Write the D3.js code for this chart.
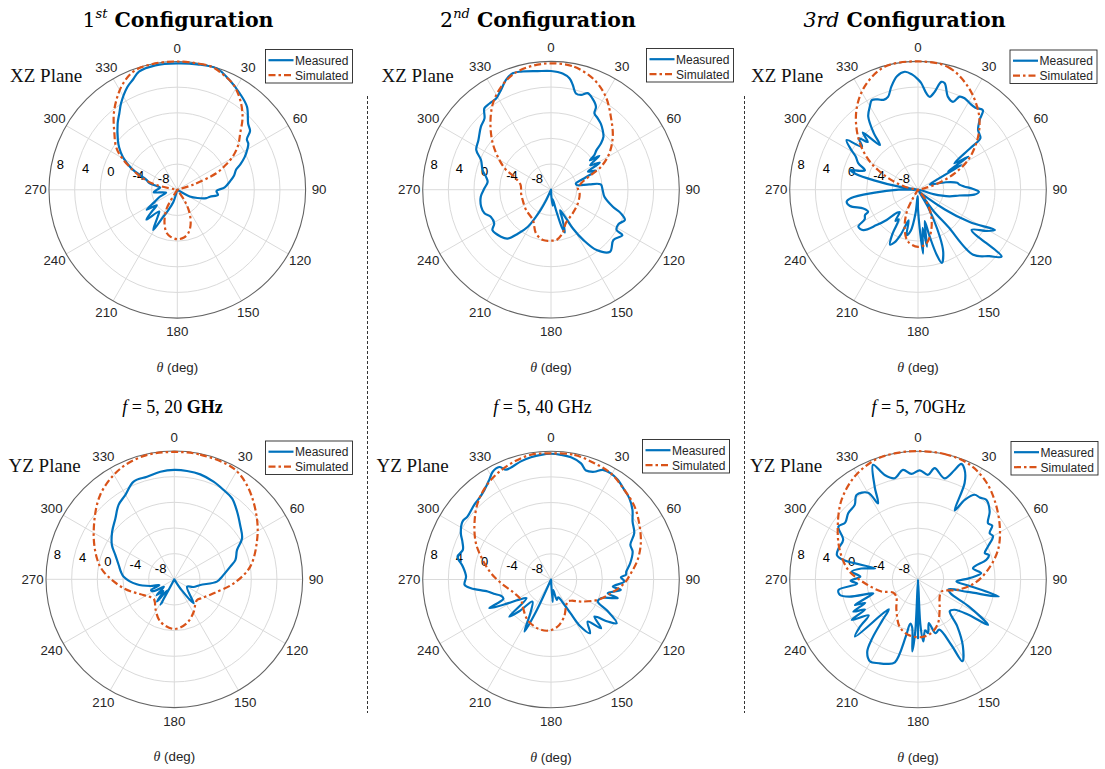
<!DOCTYPE html>
<html>
<head>
<meta charset="utf-8">
<script src="https://cdn.jsdelivr.net/npm/d3@7"></script>
<style>
  html, body { margin: 0; padding: 0; background: #ffffff; }
  svg { display: block; }
</style>
</head>
<body>
<svg id="fig" width="1105" height="769"></svg>
<script>
// Shared polar axis ticks and radial limits (dB)
const thetaTicks = [0, 30, 60, 90, 120, 150, 180, 210, 240, 270, 300, 330];
const rTicks = [-8, -4, 0, 4, 8];
const rLimits = [-12, 8];

const seriesNames = ["Measured", "Simulated"];
const columnTitles = ["1st", "2nd", "3rd"];
const frequencyTitles = ["5, 20", "5, 40", "5, 70"];
const planeNames = ["XZ Plane", "YZ Plane"];

// Radiation patterns as [theta (deg), gain (dB)]

// XZ plane, 1st configuration
const xz1Measured = [[0,7.7],[9,7.8],[18,7.9],[25,7.0],[33,5.9],[40,4.9],[47,3.1],[51,2.6],[54,1.4],[57,1.2],[60,0.6],[64,-0.3],[68,-1.4],[71,-2.3],[76,-2.9],[81,-3.7],[87,-4.6],[92,-5.9],[97,-5.6],[102,-6.8],[106,-7.3],[112,-8.6],[118,-9.8],[126,-12],[190,-12],[198,-10],[204,-8.5],[208,-7.0],[211,-4.7],[216,-6.8],[220,-7.6],[226,-5.3],[230,-7.0],[233,-8.0],[237,-6.3],[242,-8.0],[248,-9.0],[256,-10.2],[264,-8.3],[270,-8.8],[277,-9.3],[283,-7.6],[288,-6.9],[295,-4.1],[301,-2.1],[306,-0.8],[310,0.1],[318,1.9],[323,3.0],[327,4.1],[334,5.8],[338,6.5],[342,7.35],[350,7.7]];
const xz1Simulated = [[0,8.0],[10,7.95],[16,7.9],[22,7.3],[28,6.6],[35,5.1],[42,3.2],[48,1.2],[54,-0.3],[59,-1.9],[63,-3.6],[67,-5.4],[72,-9.4],[78,-12],[140,-12],[146,-10],[150,-8.6],[154,-7.4],[160,-6.0],[166,-5.0],[172,-4.5],[180,-4.3],[188,-4.6],[194,-5.1],[200,-6.2],[205,-7.4],[210,-8.8],[216,-12],[278,-12],[283,-8.6],[288,-6.5],[294,-4.4],[300,-2.0],[305,-0.35],[312,1.2],[320,3.4],[327,5.2],[333,6.6],[340,7.7],[350,8.0]];

// XZ plane, 2nd configuration
const xz2Measured = [[0,6.5],[5.7,6.2],[9.4,5.6],[11.7,4.7],[14.5,3.5],[17.6,3.5],[20.8,4.1],[24.5,3.6],[28.5,2.7],[29.6,1.7],[33.2,1.3],[37,0.9],[40.9,0.3],[44.8,-0.4],[47.2,-1.4],[49,-2.6],[51.5,-3.4],[53,-4.4],[55,-2.8],[58,-4.8],[61,-3.3],[64,-5.6],[67,-4.4],[71,-6.5],[76,-8.0],[80,-7.9],[82,-6.0],[84,-4.2],[90.4,-3.95],[97.5,-3.6],[105.4,-2.0],[108.7,-0.5],[112.3,0.45],[117,-0.2],[121.6,0.0],[122.5,1.2],[128.9,0.5],[136.4,1.35],[142.9,-0.2],[147.3,-2.7],[150.5,-5.0],[152.4,-7.0],[156,-8.5],[159,-7.0],[162,-5.0],[164,-6.0],[166,-8.5],[170,-10.5],[174,-9.5],[177,-11],[180,-12],[200,-12],[205,-10],[207,-8.5],[209,-7.2],[212,-5.2],[217,-3.4],[221.7,-1.8],[226.8,-1.3],[235.3,-0.9],[239.3,-1.7],[245.8,-1.7],[250.5,-1.0],[256.3,-0.8],[264.3,-1.0],[271,-1.6],[277,-2.05],[281,-1.7],[286,-0.9],[293,-0.15],[298,1.2],[304.3,1.7],[312,2.7],[317,3.2],[320.7,4.4],[324.5,4.5],[329,4.6],[333.4,5.4],[337.7,6.5],[341.8,7.1],[345.7,7.0],[353.6,6.6]];
const xz2Simulated = [[0,7.7],[10.7,7.5],[21.6,6.4],[30.6,4.8],[39.4,2.7],[49.3,0.7],[58.1,-1.3],[65.3,-3.4],[69.9,-5.4],[78.1,-7.2],[87,-7.8],[97,-7.5],[117,-7.3],[137.5,-7.0],[156,-6.3],[165,-5.0],[174,-4.1],[180,-4.05],[189,-4.05],[199,-4.8],[211,-6.5],[231,-7.0],[250,-7.3],[263,-7.3],[279,-7.2],[289.5,-5.9],[293.6,-4.4],[300,-2.7],[308.5,-0.4],[317.6,2.0],[326,4.2],[334,5.8],[342.5,7.0],[351,7.5]];

// XZ plane, 3rd configuration
const xz3Measured = [[0,5.2],[1.8,4.6],[4.9,3.1],[7.2,2.6],[9.7,3.5],[12.2,5.2],[14.1,5.1],[17.9,3.2],[21.7,2.75],[24.1,3.9],[27,4.0],[30.9,3.7],[35,3.6],[39.2,4.0],[41.5,2.5],[45.2,1.2],[48,0.9],[50.5,0.6],[51.5,-1.5],[54,-5.0],[56.7,-2.6],[58.5,-6.5],[60.4,-4.2],[62,-8.5],[66,-10],[70,-9.5],[75,-7.5],[80,-5.8],[83,-5.5],[86,-4.8],[89,-3.5],[92,-2.5],[95,-3.2],[98,-5.5],[102,-7.0],[106,-9.5],[110,-12],[126.4,-6.8],[122,-2.5],[117.6,1.55],[121,0.5],[126.9,-1.55],[128.7,4.7],[133,3.2],[139.7,1.3],[140.9,-4.6],[144,-8],[147,-12],[150,-9],[155,-4],[158,-1.5],[162,0.0],[164,-1.5],[166,-4.5],[168,-7],[171,-3.0],[173,-6],[175.5,-2.0],[177.5,-6],[180,-9],[183,-11],[186,-8.3],[190,-5.5],[194,-4.7],[197,-7],[201,-4.5],[204,-3.0],[207,-2.4],[210,-4],[213,-6.5],[216,-6.0],[219,-7.5],[222,-7.2],[226,-5.2],[229.5,-3.5],[233.6,-1.4],[238.2,-1.06],[241,-2.5],[244.5,-2.85],[246.1,-3.5],[251.1,-3.0],[256.5,-1.1],[260.5,-0.73],[263,-1.5],[266,-5],[270,-9],[275,-12],[279,-9],[282,-5],[284.2,-2.0],[286.1,-1.0],[288,-2.5],[290,-3.2],[294,-1.8],[298,-1.0],[301,0.2],[304.8,1.55],[307.5,-1.0],[311,0.2],[313.5,-1.2],[316,0.4],[319.6,-2.85],[322,-0.8],[325.8,1.8],[330,3.0],[332.7,3.7],[336,3.4],[339,3.0],[342.1,3.2],[345.5,4.6],[349.5,6.0],[353.6,6.5],[357,6.0]];
const xz3Simulated = [[0,8.0],[13.7,7.7],[25.9,5.85],[37,3.55],[44.4,1.7],[51.5,-0.4],[59.3,-2.9],[66,-5.75],[72.4,-8.7],[78,-11],[82,-12],[138,-12],[142.4,-10.3],[151.8,-7.8],[161.7,-5.4],[171.2,-3.5],[180,-3.1],[190.9,-3.75],[198.3,-5.4],[206.2,-7.9],[210,-10],[214,-12],[278,-12],[282.7,-9.9],[289.9,-7.6],[296.2,-5.05],[302.6,-2.45],[311.5,0.5],[322.3,3.7],[332.6,6.1],[344.8,7.85]];

// YZ plane, 1st configuration
const yz1Measured = [[0,5.05],[6.7,5.0],[13.9,4.85],[21.9,4.4],[28.9,3.9],[35.5,3.5],[42.8,2.4],[50.5,1.3],[58.8,0.35],[64.9,-1.2],[72.4,-2.0],[77.3,-3.05],[86.8,-4.55],[93.1,-5.35],[102.3,-7.85],[112,-8.8],[120,-9.7],[141,-7.2],[146,-10],[150,-12],[200,-12],[208,-7.5],[212,-10],[218,-7.6],[223,-9.5],[228,-8.3],[234,-10],[240,-8.3],[245,-8.0],[249,-9.5],[254.5,-8.1],[262.4,-6.1],[273,-4.1],[278,-3.6],[284.4,-3.05],[292.4,-2.05],[298.8,-0.9],[307.4,0.2],[315.9,1.2],[323.2,2.5],[329.8,3.2],[337.4,4.5],[345.1,4.55],[352.6,4.9]];
const yz1Simulated = [[0,7.85],[11.7,7.85],[28.1,7.6],[39.2,6.3],[53.6,4.0],[65.5,2.15],[80.5,0.0],[93.9,-2.7],[109.6,-5.5],[124,-6.8],[132.4,-7.2],[140,-6.9],[149.1,-6.1],[163.9,-4.9],[180,-4.25],[198.3,-5.05],[213.2,-6.6],[220,-7.3],[227.4,-7.6],[236,-7.2],[242.9,-6.6],[259.9,-4.0],[276.2,-0.9],[285.2,0.5],[300.6,2.6],[318.7,5.5],[334.1,7.2],[347.8,7.85]];

// YZ plane, 2nd configuration
const yz2Measured = [[0,7.6],[4.6,7.5],[9.3,7.3],[14.5,6.7],[17.8,5.85],[21.9,6.1],[25.2,6.9],[29.4,7.0],[33.8,6.7],[39.3,6.05],[43.9,5.6],[49.5,4.7],[54.6,3.6],[60.9,2.85],[66.4,1.5],[71.1,1.45],[78.4,0.6],[84,-0.2],[86.4,-0.3],[88.1,-1.1],[91.6,-0.55],[96.5,-2.3],[98.4,-1.0],[103.6,-2.9],[105.6,-1.2],[110,-3.6],[115.2,-3.95],[119,-2.0],[123.6,0.3],[126.5,-1.0],[130.5,-3.1],[134.2,-1.1],[138.9,-3.3],[144,-1.65],[148,-3.4],[150,-6.0],[152,-7.5],[158,-9.0],[164,-8.7],[168,-10.3],[172,-10],[176,-8.5],[180,-12],[200,-12],[205,-6.5],[207,-2.9],[212,-6.0],[220,-7.5],[225,-5.0],[228.4,-3.3],[232.5,-7.2],[238,-6.0],[241,-4.4],[245.1,-1.4],[248,-4.0],[252,-3.8],[256,-2.8],[259.3,-1.95],[263.8,0.55],[266.5,1.5],[272,1.25],[278.4,1.9],[283.8,3.0],[288.6,2.5],[293,3.0],[297.2,3.8],[303.3,4.5],[307.1,4.3],[314.2,4.7],[318.6,4.9],[323.4,5.4],[328.3,6.3],[331.6,7.1],[335.3,7.3],[337.7,6.5],[341.3,6.6],[345.7,7.0],[350.7,7.3],[355.4,7.5]];
const yz2Simulated = [[0,7.65],[10.6,7.77],[20.4,7.35],[29.4,7.0],[39.3,6.05],[48.8,5.3],[57.5,4.3],[68,3.1],[77.2,1.85],[85.5,0.5],[92.9,-0.55],[102.8,-2.4],[113.5,-4.05],[126.3,-6.2],[136,-7.4],[142.9,-7.7],[150.9,-7.2],[160.2,-5.9],[171.9,-4.6],[183.7,-4.0],[195.3,-4.1],[210,-4.7],[226.4,-5.9],[235.9,-6.35],[249.6,-5.9],[265.8,-4.2],[276,-2.6],[286.1,-0.9],[295.8,1.0],[306.3,2.8],[316.1,4.5],[325,5.7],[333.4,6.55],[342.7,7.25],[350.9,7.7]];

// YZ plane, 3rd configuration
const yz3Measured = [[0.9,5.0],[5.5,4.4],[8.5,5.55],[14.7,4.3],[18.5,6.0],[20.5,7.25],[23,6.6],[25.8,4.7],[28,0.2],[30.4,2.4],[33.8,3.9],[37,4.0],[40.6,4.35],[46.5,3.4],[51.2,2.0],[54,2.3],[57.1,1.3],[60,1.5],[64.8,0.05],[68.4,-0.8],[71,-0.3],[73.9,-0.9],[78.4,-3.25],[84.3,-2.1],[88.5,-3.95],[93,-6.0],[97,-4.0],[101.9,0.85],[104,-4.0],[108,-7.0],[113,-6.5],[118,-3.0],[122.9,1.0],[125,-2.5],[129.6,-4.6],[135,-5.0],[140,-2.5],[146,0.5],[151.5,2.5],[153,-0.5],[157,-3.5],[162,-3.2],[166,-5.0],[169.4,-3.5],[172,-4.0],[175.1,-2.3],[177,-5.0],[178.5,-12],[180,-2.85],[181.5,-12],[183,-4.0],[184.5,-0.75],[187,-4.5],[190,-5.0],[192,-3.0],[195.6,1.4],[200,2.0],[205,2.4],[210.3,2.8],[215,1.8],[218,-0.5],[221,-3.5],[224.5,-5.5],[227.8,1.25],[230.9,-0.35],[234,-2.5],[238.6,0.1],[240.5,-2.5],[243.6,-0.75],[246,-3.0],[248,-1.4],[250.5,-3.5],[252.8,-4.7],[256,-1.0],[258.8,0.4],[262.5,0.5],[266,-2.5],[269,-1.5],[272.8,-3.0],[276.7,-1.6],[281,-3.0],[284.6,-5.1],[284.6,0.0],[286.8,1.2],[291.4,1.3],[297.9,1.2],[303.6,2.9],[308,2.4],[313.5,3.0],[319.7,3.25],[324,4.3],[330.1,3.6],[332.3,1.4],[335,4.0],[338.6,7.2],[342.3,5.1],[347,4.2],[352.2,5.25],[356.4,4.5]];
const yz3Simulated = [[0,8.0],[11.9,8.0],[23.3,7.7],[33.8,6.7],[43.9,5.2],[57,3.2],[69.7,1.3],[82.1,-1.0],[93.7,-3.15],[104.5,-5.6],[117.2,-7.9],[128.1,-7.7],[144.5,-6.2],[155.4,-4.5],[166,-3.4],[176.7,-3.0],[190.2,-3.25],[201.3,-4.1],[215.5,-6.2],[231.9,-7.7],[242.5,-7.6],[251.9,-6.0],[266,-3.7],[277.9,-1.0],[290.7,1.05],[303.5,3.0],[316.1,5.2],[328.4,6.85],[340.1,7.8],[349.5,8.0]];

// ---------------------------------------------------------------------------
// Figure layout
const R = 128.3;
const gridColor = "#dadada";
const edgeColor = "#636363";
const ink = "#262626";
const blue = "#0072BD";
const orange = "#D95319";
const sans = "'Liberation Sans', Arial, Helvetica, sans-serif";
const serif = "'Liberation Serif', 'Times New Roman', serif";
const titleSerif = "'DejaVu Serif', 'Liberation Serif', serif";

const panels = [
  { cx: 177.3, cy: 189.8, measured: xz1Measured, simulated: xz1Simulated, legend: [265.5, 49.5], plane: 0, planeX: 10 },
  { cx: 551.0, cy: 189.7, measured: xz2Measured, simulated: xz2Simulated, legend: [646.5, 48.5], plane: 0, planeX: 381.5 },
  { cx: 918.0, cy: 189.7, measured: xz3Measured, simulated: xz3Simulated, legend: [1010.0, 50.0], plane: 0, planeX: 751 },
  { cx: 174.3, cy: 579.3, measured: yz1Measured, simulated: yz1Simulated, legend: [265.5, 441.0], plane: 1, planeX: 8.5 },
  { cx: 551.0, cy: 579.5, measured: yz2Measured, simulated: yz2Simulated, legend: [642.5, 439.5], plane: 1, planeX: 376.5 },
  { cx: 918.0, cy: 579.5, measured: yz3Measured, simulated: yz3Simulated, legend: [1011.0, 441.5], plane: 1, planeX: 750 }
];

const svg = d3.select("#fig");

function drawPanel(p) {
  const g = svg.append("g").attr("transform", `translate(${p.cx},${p.cy})`);
  const r = d3.scaleLinear().domain(rLimits).range([0, R]).clamp(true);
  const a = d3.scaleLinear().domain([0, 360]).range([0, 2 * Math.PI]);

  // grid rings
  rTicks.filter(t => t < rLimits[1]).forEach(t => {
    g.append("circle").attr("r", r(t))
      .attr("fill", "none").attr("stroke", gridColor).attr("stroke-width", 1);
  });
  // spokes
  thetaTicks.forEach(t => {
    g.append("line")
      .attr("x1", 0).attr("y1", 0)
      .attr("x2", R * Math.sin(a(t))).attr("y2", -R * Math.cos(a(t)))
      .attr("stroke", gridColor).attr("stroke-width", 1);
  });
  // outer edge
  g.append("circle").attr("r", r(rLimits[1]))
    .attr("fill", "none").attr("stroke", edgeColor).attr("stroke-width", 1.1);

  // angular tick labels
  thetaTicks.forEach(t => {
    const rr = R + 13.5;
    g.append("text")
      .attr("x", rr * Math.sin(a(t)))
      .attr("y", -rr * Math.cos(a(t)))
      .attr("text-anchor", "middle").attr("dominant-baseline", "central")
      .attr("font-family", sans).attr("font-size", 13.3).attr("fill", ink)
      .text(t);
  });
  // radial tick labels
  rTicks.forEach(t => {
    const rr = r(t);
    g.append("text")
      .attr("x", -0.985 * rr + 5.8)
      .attr("y", -0.14 * rr - 7.3)
      .attr("text-anchor", "start").attr("dominant-baseline", "central")
      .attr("font-family", sans).attr("font-size", 13).attr("fill", "#000")
      .text(t);
  });

  const line = d3.lineRadial()
    .angle(d => a(d[0]))
    .radius(d => r(d[1]))
    .curve(d3.curveCatmullRomClosed.alpha(0.5));

  g.append("path").datum(p.measured).attr("d", line)
    .attr("fill", "none").attr("stroke", blue).attr("stroke-width", 2.2)
    .attr("stroke-linejoin", "round");
  g.append("path").datum(p.simulated).attr("d", line)
    .attr("fill", "none").attr("stroke", orange).attr("stroke-width", 2.2)
    .attr("stroke-dasharray", "7,3,2.5,3");

  // theta axis label
  const lab = svg.append("text")
    .attr("x", p.cx).attr("y", p.cy + 182)
    .attr("text-anchor", "middle").attr("fill", ink).attr("font-size", 13.3);
  lab.append("tspan").attr("font-family", serif).attr("font-style", "italic").attr("font-size", 14).text("θ");
  lab.append("tspan").attr("font-family", sans).text(" (deg)");

  // legend
  const [lx, ly] = p.legend;
  const lg = svg.append("g").attr("transform", `translate(${lx},${ly})`);
  lg.append("rect").attr("x", 0).attr("y", 0).attr("width", 87).attr("height", 33.5)
    .attr("fill", "#fff").attr("stroke", ink).attr("stroke-width", 0.9);
  [blue, orange].forEach((c, i) => {
    const y = 10.7 + i * 15;
    lg.append("line").attr("x1", 3).attr("x2", 28).attr("y1", y).attr("y2", y)
      .attr("stroke", c).attr("stroke-width", 2.2)
      .attr("stroke-dasharray", i === 1 ? "7,3,2.5,3" : null);
    lg.append("text").attr("x", 29.5).attr("y", y + 4.3)
      .attr("font-family", sans).attr("font-size", 12).attr("fill", ink)
      .text(seriesNames[i]);
  });

  // plane label
  svg.append("text")
    .attr("x", p.planeX).attr("y", p.plane === 0 ? 82 : 472)
    .attr("font-family", serif).attr("font-size", 19).attr("fill", "#111")
    .text(planeNames[p.plane]);
}

panels.forEach(drawPanel);

// column titles
const titleX = [178, 538, 904.5];
columnTitles.forEach((s, i) => {
  const t = svg.append("text").attr("x", titleX[i]).attr("y", 27)
    .attr("text-anchor", "middle").attr("font-family", titleSerif)
    .attr("font-size", 20.5).attr("fill", "#000");
  if (i < 2) {
    t.append("tspan").text(s.slice(0, 1));
    t.append("tspan").attr("font-style", "italic").attr("font-size", 13).attr("dy", -9).text(s.slice(1));
    t.append("tspan").attr("font-weight", "bold").attr("dy", 9).text(" Configuration");
  } else {
    t.append("tspan").attr("font-style", "italic").text(s);
    t.append("tspan").attr("font-weight", "bold").text(" Configuration");
  }
});

// frequency titles
const freqX = [172.5, 542.5, 918.5];
frequencyTitles.forEach((s, i) => {
  const t = svg.append("text").attr("x", freqX[i]).attr("y", 413)
    .attr("text-anchor", "middle").attr("font-family", serif)
    .attr("font-size", 18).attr("fill", "#000");
  t.append("tspan").attr("font-style", "italic").text("f");
  t.append("tspan").text(" = " + s + (i === 2 ? "" : " "));
  const u = t.append("tspan").text("GHz");
  if (i === 0) u.attr("font-weight", "bold");
});

// dashed separators between configurations
[367.5, 744.5].forEach(x => {
  svg.append("line").attr("x1", x).attr("x2", x).attr("y1", 96).attr("y2", 713)
    .attr("stroke", "#333").attr("stroke-width", 1).attr("stroke-dasharray", "3,2");
});
</script>
</body>
</html>
